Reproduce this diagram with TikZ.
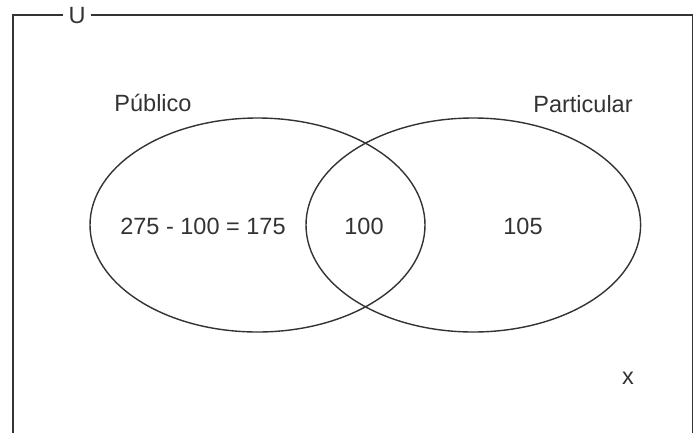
\documentclass[tikz,border=0pt]{standalone}
\usepackage{fontspec}
\setmainfont{Liberation Sans}
\definecolor{ink}{HTML}{333333}
\begin{document}
\begin{tikzpicture}[x=1pt,y=-1pt,
  lbl/.style={text=ink,font=\fontsize{23.5}{26}\selectfont,inner sep=0pt},
  setline/.style={draw=ink,line width=1.4pt}]
\useasboundingbox (0,0) rectangle (700,432);
\node[lbl] (U) at (77,16) {U};
\coordinate (bl) at (13,440);
\coordinate (br) at (692.5,440);
\draw[setline] (U.west) ++(-5,-1) coordinate (ul) -- (13,15) -- (bl);
\draw[setline] (U.east) ++(5,-1) coordinate (ur) -- (692.5,15) -- (br);
\draw[setline] (257.5,225) ellipse [x radius=167.5, y radius=107];
\draw[setline] (473.3,225) ellipse [x radius=167.3, y radius=107];
\node[lbl] (pub) at (153,103) {Público};
\node[lbl] (part) at (583,104) {Particular};
\node[lbl] (a) at (203,226) {275 - 100 = 175};
\node[lbl] (b) at (364,226) {100};
\node[lbl] (c) at (523,226) {105};
\node[lbl] (x) at (628,378) {x};
\end{tikzpicture}
\end{document}
